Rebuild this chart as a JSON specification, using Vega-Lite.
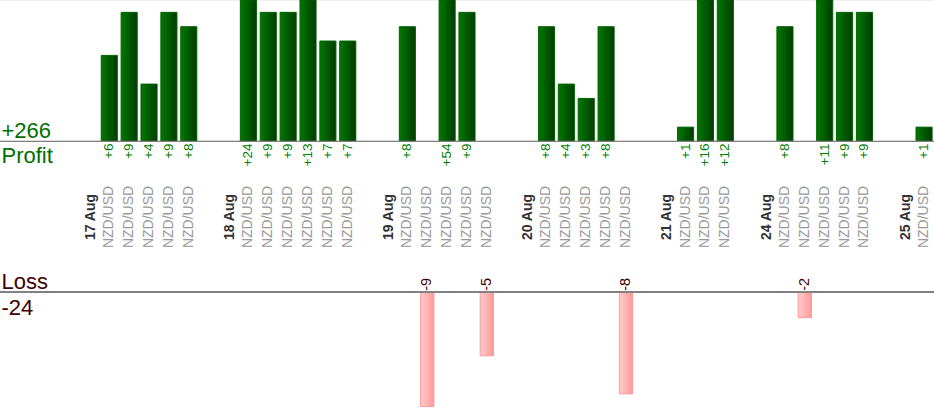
{
  "$schema": "https://vega.github.io/schema/vega-lite/v6.json",
  "description": "Daily NZD/USD trades, profit and loss in pips",
  "width": 934,
  "height": 420,
  "autosize": {"type": "none"},
  "padding": 0,
  "background": "white",
  "config": {"view": {"stroke": null}, "font": "Liberation Sans"},
  "data": {
    "values": [
      {"slot": 4, "kind": "day", "date": "17 Aug"},
      {"slot": 5, "kind": "trade", "date": "17 Aug", "pair": "NZD/USD", "pips": 6},
      {"slot": 6, "kind": "trade", "date": "17 Aug", "pair": "NZD/USD", "pips": 9},
      {"slot": 7, "kind": "trade", "date": "17 Aug", "pair": "NZD/USD", "pips": 4},
      {"slot": 8, "kind": "trade", "date": "17 Aug", "pair": "NZD/USD", "pips": 9},
      {"slot": 9, "kind": "trade", "date": "17 Aug", "pair": "NZD/USD", "pips": 8},
      {"slot": 11, "kind": "day", "date": "18 Aug"},
      {"slot": 12, "kind": "trade", "date": "18 Aug", "pair": "NZD/USD", "pips": 24},
      {"slot": 13, "kind": "trade", "date": "18 Aug", "pair": "NZD/USD", "pips": 9},
      {"slot": 14, "kind": "trade", "date": "18 Aug", "pair": "NZD/USD", "pips": 9},
      {"slot": 15, "kind": "trade", "date": "18 Aug", "pair": "NZD/USD", "pips": 13},
      {"slot": 16, "kind": "trade", "date": "18 Aug", "pair": "NZD/USD", "pips": 7},
      {"slot": 17, "kind": "trade", "date": "18 Aug", "pair": "NZD/USD", "pips": 7},
      {"slot": 19, "kind": "day", "date": "19 Aug"},
      {"slot": 20, "kind": "trade", "date": "19 Aug", "pair": "NZD/USD", "pips": 8},
      {"slot": 21, "kind": "trade", "date": "19 Aug", "pair": "NZD/USD", "pips": -9},
      {"slot": 22, "kind": "trade", "date": "19 Aug", "pair": "NZD/USD", "pips": 54},
      {"slot": 23, "kind": "trade", "date": "19 Aug", "pair": "NZD/USD", "pips": 9},
      {"slot": 24, "kind": "trade", "date": "19 Aug", "pair": "NZD/USD", "pips": -5},
      {"slot": 26, "kind": "day", "date": "20 Aug"},
      {"slot": 27, "kind": "trade", "date": "20 Aug", "pair": "NZD/USD", "pips": 8},
      {"slot": 28, "kind": "trade", "date": "20 Aug", "pair": "NZD/USD", "pips": 4},
      {"slot": 29, "kind": "trade", "date": "20 Aug", "pair": "NZD/USD", "pips": 3},
      {"slot": 30, "kind": "trade", "date": "20 Aug", "pair": "NZD/USD", "pips": 8},
      {"slot": 31, "kind": "trade", "date": "20 Aug", "pair": "NZD/USD", "pips": -8},
      {"slot": 33, "kind": "day", "date": "21 Aug"},
      {"slot": 34, "kind": "trade", "date": "21 Aug", "pair": "NZD/USD", "pips": 1},
      {"slot": 35, "kind": "trade", "date": "21 Aug", "pair": "NZD/USD", "pips": 16},
      {"slot": 36, "kind": "trade", "date": "21 Aug", "pair": "NZD/USD", "pips": 12},
      {"slot": 38, "kind": "day", "date": "24 Aug"},
      {"slot": 39, "kind": "trade", "date": "24 Aug", "pair": "NZD/USD", "pips": 8},
      {"slot": 40, "kind": "trade", "date": "24 Aug", "pair": "NZD/USD", "pips": -2},
      {"slot": 41, "kind": "trade", "date": "24 Aug", "pair": "NZD/USD", "pips": 11},
      {"slot": 42, "kind": "trade", "date": "24 Aug", "pair": "NZD/USD", "pips": 9},
      {"slot": 43, "kind": "trade", "date": "24 Aug", "pair": "NZD/USD", "pips": 9},
      {"slot": 45, "kind": "day", "date": "25 Aug"},
      {"slot": 46, "kind": "trade", "date": "25 Aug", "pair": "NZD/USD", "pips": 1}
    ]
  },
  "layer": [
    {
      "layer": [
        {
          "mark": {"type": "rule", "stroke": "#eeeeee", "strokeWidth": 2},
          "encoding": {
            "y": {"datum": 9.861, "type": "quantitative", "axis": null,
              "scale": {"domain": [-19.41, 9.861], "clamp": true, "nice": false, "zero": false}}
          }
        },
        {
          "transform": [{"filter": "datum.pips > 0"}],
          "mark": {
            "type": "bar",
            "width": {"band": 0.81},
            "fill": {"gradient": "linear", "x1": 0, "y1": 0, "x2": 1, "y2": 0,
              "stops": [{"offset": 0, "color": "#007800"}, {"offset": 1, "color": "#003c00"}]},
            "stroke": "#006400",
            "strokeWidth": 1
          },
          "encoding": {
            "x": {"field": "slot", "type": "ordinal", "axis": null,
              "scale": {"type": "band", "domain": [0,1,2,3,4,5,6,7,8,9,10,11,12,13,14,15,16,17,18,19,20,21,22,23,24,25,26,27,28,29,30,31,32,33,34,35,36,37,38,39,40,41,42,43,44,45,46], "paddingInner": 0, "paddingOuter": 0}},
            "y": {"field": "pips", "type": "quantitative", "axis": null,
              "scale": {"domain": [-19.41, 9.861], "clamp": true, "nice": false, "zero": false}},
            "y2": {"datum": 0}
          }
        },
        {
          "mark": {"type": "rule", "stroke": "#808080", "strokeWidth": 1},
          "encoding": {
            "y": {"datum": 0, "type": "quantitative", "axis": null,
              "scale": {"domain": [-19.41, 9.861], "clamp": true, "nice": false, "zero": false}}
          }
        },
        {
          "transform": [{"filter": "datum.pips > 0"}],
          "mark": {"type": "text", "angle": 270, "align": "right", "baseline": "middle", "dx": -2, "fontSize": 13.5, "fill": "#008000"},
          "encoding": {
            "x": {"field": "slot", "type": "ordinal", "axis": null},
            "y": {"datum": 0, "type": "quantitative", "axis": null,
              "scale": {"domain": [-19.41, 9.861], "clamp": true, "nice": false, "zero": false}},
            "text": {"field": "pips", "type": "quantitative", "format": "+d"}
          }
        },
        {
          "transform": [{"filter": "datum.kind == 'trade'"}],
          "mark": {"type": "text", "angle": 270, "align": "center", "baseline": "middle", "dx": -75.5, "fontSize": 14, "fill": "#999999"},
          "encoding": {
            "x": {"field": "slot", "type": "ordinal", "axis": null},
            "y": {"datum": 0, "type": "quantitative", "axis": null,
              "scale": {"domain": [-19.41, 9.861], "clamp": true, "nice": false, "zero": false}},
            "text": {"field": "pair", "type": "nominal"}
          }
        },
        {
          "transform": [{"filter": "datum.kind == 'day'"}],
          "mark": {"type": "text", "angle": 270, "align": "center", "baseline": "middle", "dx": -75.5, "dy": 1.5, "fontSize": 14, "fontWeight": "bold", "fill": "#333333"},
          "encoding": {
            "x": {"field": "slot", "type": "ordinal", "axis": null},
            "y": {"datum": 0, "type": "quantitative", "axis": null,
              "scale": {"domain": [-19.41, 9.861], "clamp": true, "nice": false, "zero": false}},
            "text": {"field": "date", "type": "nominal"}
          }
        },
        {
          "transform": [
            {"filter": "datum.pips > 0"},
            {"aggregate": [{"op": "sum", "field": "pips", "as": "total"}]}
          ],
          "layer": [
            {
              "mark": {"type": "text", "align": "left", "baseline": "alphabetic", "dx": 1.5, "dy": -3.5, "fontSize": 22, "fill": "#007000"},
              "encoding": {
                "x": {"datum": 0, "type": "ordinal", "bandPosition": 0, "axis": null},
                "y": {"datum": 0, "type": "quantitative", "axis": null,
                  "scale": {"domain": [-19.41, 9.861], "clamp": true, "nice": false, "zero": false}},
                "text": {"field": "total", "type": "quantitative", "format": "+d"}
              }
            },
            {
              "mark": {"type": "text", "align": "left", "baseline": "alphabetic", "dx": 1.5, "dy": 21.5, "fontSize": 22, "fill": "#007000"},
              "encoding": {
                "x": {"datum": 0, "type": "ordinal", "bandPosition": 0, "axis": null},
                "y": {"datum": 0, "type": "quantitative", "axis": null,
                  "scale": {"domain": [-19.41, 9.861], "clamp": true, "nice": false, "zero": false}},
                "text": {"value": "Profit"}
              }
            }
          ]
        }
      ]
    },
    {
      "layer": [
        {
          "transform": [{"filter": "datum.pips < 0"}],
          "mark": {
            "type": "bar",
            "width": {"band": 0.67},
            "fill": {"gradient": "linear", "x1": 0, "y1": 0, "x2": 1, "y2": 0,
              "stops": [{"offset": 0, "color": "#ffcccc"}, {"offset": 1, "color": "#ff9999"}]},
            "stroke": "#ff9999",
            "strokeWidth": 1
          },
          "encoding": {
            "x": {"field": "slot", "type": "ordinal", "axis": null},
            "y": {"field": "pips", "type": "quantitative", "axis": null,
              "scale": {"domain": [-10.06, 23.02], "nice": false, "zero": false}},
            "y2": {"datum": 0}
          }
        },
        {
          "mark": {"type": "rule", "stroke": "#808080", "strokeWidth": 1},
          "encoding": {
            "y": {"datum": 0, "type": "quantitative", "axis": null,
              "scale": {"domain": [-10.06, 23.02], "nice": false, "zero": false}}
          }
        },
        {
          "transform": [{"filter": "datum.pips < 0"}],
          "mark": {"type": "text", "angle": 270, "align": "left", "baseline": "middle", "dx": 1.5, "fontSize": 14.5, "fill": "#400000"},
          "encoding": {
            "x": {"field": "slot", "type": "ordinal", "axis": null},
            "y": {"datum": 0, "type": "quantitative", "axis": null,
              "scale": {"domain": [-10.06, 23.02], "nice": false, "zero": false}},
            "text": {"field": "pips", "type": "nominal"}
          }
        },
        {
          "transform": [
            {"filter": "datum.pips < 0"},
            {"aggregate": [{"op": "sum", "field": "pips", "as": "total"}]}
          ],
          "layer": [
            {
              "mark": {"type": "text", "align": "left", "baseline": "alphabetic", "dx": 1.5, "dy": -3.5, "fontSize": 22, "fill": "#400000"},
              "encoding": {
                "x": {"datum": 0, "type": "ordinal", "bandPosition": 0, "axis": null},
                "y": {"datum": 0, "type": "quantitative", "axis": null,
                  "scale": {"domain": [-10.06, 23.02], "nice": false, "zero": false}},
                "text": {"value": "Loss"}
              }
            },
            {
              "mark": {"type": "text", "align": "left", "baseline": "alphabetic", "dx": 1.5, "dy": 22.5, "fontSize": 22, "fill": "#400000"},
              "encoding": {
                "x": {"datum": 0, "type": "ordinal", "bandPosition": 0, "axis": null},
                "y": {"datum": 0, "type": "quantitative", "axis": null,
                  "scale": {"domain": [-10.06, 23.02], "nice": false, "zero": false}},
                "text": {"field": "total", "type": "nominal"}
              }
            }
          ]
        }
      ]
    }
  ],
  "resolve": {"scale": {"y": "independent"}}
}
